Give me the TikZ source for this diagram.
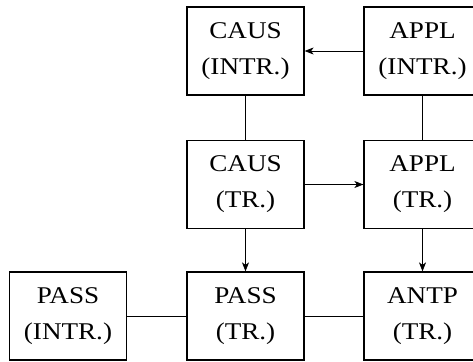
\documentclass[tikz,border=0pt]{standalone}
\usepackage{fontspec}
\setmainfont{Liberation Serif}[FakeStretch=1.13]
\usetikzlibrary{arrows.meta}
\tikzset{
  morph/.style={draw, line width=1.2pt, minimum width=117pt, minimum height=88pt,
    inner sep=0pt, align=center, font=\fontsize{24}{36}\selectfont},
  link/.style={line width=0.8pt},
  derive/.style={link, -{Stealth[length=9pt,width=7pt,inset=2.5pt]}}
}
\begin{document}
\begin{tikzpicture}[x=1pt,y=-1pt]
  \clip (0,0) rectangle (473,361);
  % top row
  \node[morph] (causi) at (245.5,51) {CAUS\\(INTR.)};
  \node[morph] (appli) at (422.5,51) {APPL\\(INTR.)};
  % middle row
  \node[morph] (caust) at (245.5,184.5) {CAUS\\(TR.)};
  \node[morph] (applt) at (422.5,184.5) {APPL\\(TR.)};
  % bottom row
  \node[morph] (passi) at (68,316) {PASS\\(INTR.)};
  \node[morph] (passt) at (245.5,316) {PASS\\(TR.)};
  \node[morph] (antpt) at (422.5,316) {ANTP\\(TR.)};
  % connectors
  \draw[derive] (appli) -- (causi);
  \draw[link] (causi) -- (caust);
  \draw[link] (appli) -- (applt);
  \draw[derive] (caust) -- (applt);
  \draw[derive] (caust) -- (passt);
  \draw[derive] (applt) -- (antpt);
  \draw[link] (passi) -- (passt);
  \draw[link] (passt) -- (antpt);
\end{tikzpicture}
\end{document}
